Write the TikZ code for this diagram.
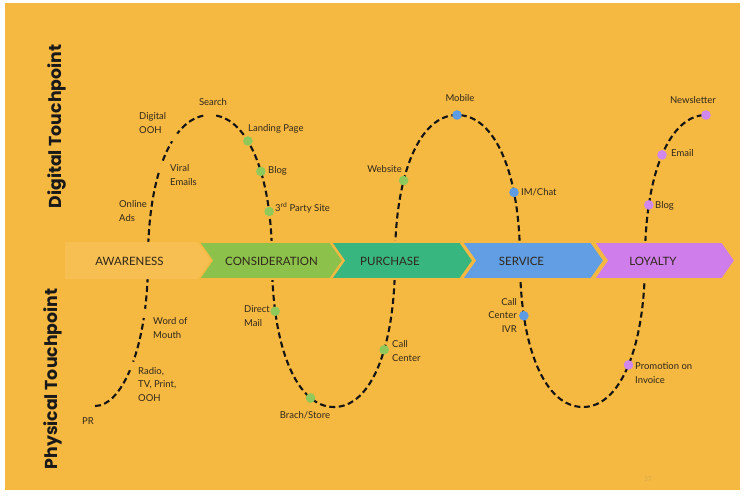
\documentclass[tikz,border=0pt]{standalone}
\usepackage{fontspec}
\setmainfont{Lato}
\newfontfamily\titlefont{Poppins}

\definecolor{pagewhite}{HTML}{FFFFFF}
\definecolor{bgorange}{HTML}{F5B942}
\definecolor{awarefill}{HTML}{F7BF51}
\definecolor{considgreen}{HTML}{8CC24B}
\definecolor{purchteal}{HTML}{37B67F}
\definecolor{servblue}{HTML}{619EE4}
\definecolor{loyalviolet}{HTML}{CE7DEB}
\definecolor{dotgreen}{HTML}{90C85A}
\definecolor{dotblue}{HTML}{5D9BE2}
\definecolor{dotviolet}{HTML}{D088EE}
\definecolor{ink}{HTML}{30261A}
\definecolor{faint}{HTML}{D9A94A}

\tikzset{
  journey/.style={draw=black!92, line width=2.1pt, dash pattern=on 6pt off 3.5pt},
  touch/.style={circle, inner sep=0pt, minimum size=9.6pt},
  gtouch/.style={touch, fill=dotgreen},
  btouch/.style={touch, fill=dotblue},
  vtouch/.style={touch, fill=dotviolet},
  htouch/.style={touch, fill=bgorange},
  lbl/.style={font=\fontsize{9.5}{13.6}\selectfont, text=ink, inner sep=0pt, align=left},
  stagebox/.style={draw=bgorange, line width=1.6pt},
  stagelbl/.style={font=\fontsize{11.5}{13}\selectfont, text=ink, inner sep=0pt},
  sidetitle/.style={font=\titlefont\bfseries\fontsize{17.3}{20}\selectfont, text=black!90, inner sep=0pt, rotate=90, anchor=base},
}

\begin{document}
\begin{tikzpicture}[x=1pt, y=-1pt]
  % page and backdrop
  \useasboundingbox (0,0) rectangle (746,496);
  \fill[pagewhite] (0,0) rectangle (746,496);
  \fill[bgorange] (5,3) rectangle (740,490);

  % key points of the journey wave
  \coordinate (pr) at (95,406);
  \coordinate (x1) at (148,260);
  \coordinate (p1) at (210,115);
  \coordinate (x2) at (272,260);
  \coordinate (t2) at (334,407);
  \coordinate (x3) at (395,260);
  \coordinate (p3) at (457,115);
  \coordinate (x4) at (520,260);
  \coordinate (t4) at (583,407);
  \coordinate (x5) at (645,260);
  \coordinate (p5) at (706,115);

  % the dashed journey with its touchpoints
  \draw[journey]
    (pr) .. controls (122,406) and (148,348) ..
      node[htouch, pos=0.5] (radiodot) {}
      node[htouch, pos=0.78] (wordot) {} (x1)
    .. controls (148,173) and (173,115) ..
      node[htouch, pos=0.42] (viraldot) {}
      node[htouch, pos=0.63] (oohdot) {} (p1)
    .. controls (247,115) and (272,173) ..
      node[gtouch, pos=0.4] (landingdot) {}
      node[gtouch, pos=0.6] (blogdot) {}
      node[gtouch, pos=0.8] (thirddot) {} (x2)
    .. controls (272,348) and (297,407) ..
      node[gtouch, pos=0.21] (maildot) {}
      node[gtouch, pos=0.77] (storedot) {} (t2)
    .. controls (371,407) and (395,348) ..
      node[gtouch, pos=0.6] (calldot) {} (x3)
    .. controls (395,173) and (420,115) ..
      node[gtouch, pos=0.35] (webdot) {} (p3)
    .. controls (495,115) and (520,173) ..
      node[btouch, pos=0.71] (chatdot) {} (x4)
    .. controls (520,348) and (545,407) ..
      node[btouch, pos=0.23] (ivrdot) {} (t4)
    .. controls (620,407) and (645,348) ..
      node[vtouch, pos=0.51] (promodot) {} (x5)
    .. controls (645,173) and (670,115) ..
      node[vtouch, pos=0.23] (loyblogdot) {}
      node[vtouch, pos=0.5] (emaildot) {} (p5);
  \node[htouch] (searchdot) at (p1) {};
  \node[btouch] (mobiledot) at (p3) {};
  \node[vtouch] (newsdot) at (p5) {};

  % stage band
  \fill[awarefill] (65,242) -- (200,242) -- (213,260.5) -- (200,279) -- (65,279) -- cycle;
  \filldraw[stagebox, fill=considgreen] (199,242) -- (330,242) -- (343,260.5) -- (330,279) -- (199,279) -- (212,260.5) -- cycle;
  \filldraw[stagebox, fill=purchteal] (331,242) -- (460,242) -- (473,260.5) -- (460,279) -- (331,279) -- (344,260.5) -- cycle;
  \filldraw[stagebox, fill=servblue] (462,242) -- (591,242) -- (604,260.5) -- (591,279) -- (462,279) -- (475,260.5) -- cycle;
  \filldraw[stagebox, fill=loyalviolet] (594,242) -- (722,242) -- (735,260.5) -- (722,279) -- (594,279) -- (607,260.5) -- cycle;

  \node[stagelbl] (awareness) at (129.5,261) {AWARENESS};
  \node[stagelbl] (consideration) at (271.5,261) {CONSIDERATION};
  \node[stagelbl] (purchase) at (390,261) {PURCHASE};
  \node[stagelbl] (service) at (521.5,261) {SERVICE};
  \node[stagelbl] (loyalty) at (653,261) {LOYALTY};

  % side titles
  \node[sidetitle] (digital) at (61,126.5) {Digital Touchpoint};
  \node[sidetitle] (physical) at (57,379) {Physical Touchpoint};

  % digital touchpoint labels (base anchor = baseline of the last line)
  \node[lbl, anchor=base] (search) at (213,105.5) {Search};
  \node[lbl, anchor=base west] (ooh) at (139,133.5) {Digital\\OOH};
  \node[lbl, anchor=base west] (viral) at (170,185.5) {Viral\\Emails};
  \node[lbl, anchor=base west] (online) at (119,221.5) {Online\\Ads};
  \node[lbl, anchor=base west] (landing) at (248,131.5) {Landing Page};
  \node[lbl, anchor=base west] (blog) at (268,173.5) {Blog};
  \node[lbl, anchor=base west] (third) at (275,211.5) {3\textsuperscript{rd} Party Site};
  \node[lbl, anchor=base east] (website) at (402,172.5) {Website};
  \node[lbl, anchor=base] (mobile) at (460,101.5) {Mobile};
  \node[lbl, anchor=base west] (imchat) at (521,195.5) {IM/Chat};
  \node[lbl, anchor=base] (newsletter) at (693,103.5) {Newsletter};
  \node[lbl, anchor=base west] (email) at (671,156.5) {Email};
  \node[lbl, anchor=base west] (loyblog) at (655,208.5) {Blog};

  % physical touchpoint labels
  \node[lbl, anchor=base west] (word) at (153,338.5) {Word of\\Mouth};
  \node[lbl, anchor=base west] (radio) at (138,401.5) {Radio,\\TV, Print,\\OOH};
  \node[lbl, anchor=base west] (prlbl) at (82,424.5) {PR};
  \node[lbl, anchor=base west] (mail) at (244,326.5) {Direct\\Mail};
  \node[lbl, anchor=base] (store) at (305,418.5) {Brach/Store};
  \node[lbl, anchor=base west] (call) at (392,361.5) {Call\\Center};
  \node[lbl, anchor=base east, align=right] (ivr) at (517,332.5) {Call\\Center\\IVR};
  \node[lbl, anchor=base west] (promo) at (635,383.5) {Promotion on\\Invoice};

  % page number
  \node[font=\fontsize{6.5}{8}\selectfont, text=faint, inner sep=0pt, anchor=base] (pagenum) at (648,481) {37};
\end{tikzpicture}
\end{document}
